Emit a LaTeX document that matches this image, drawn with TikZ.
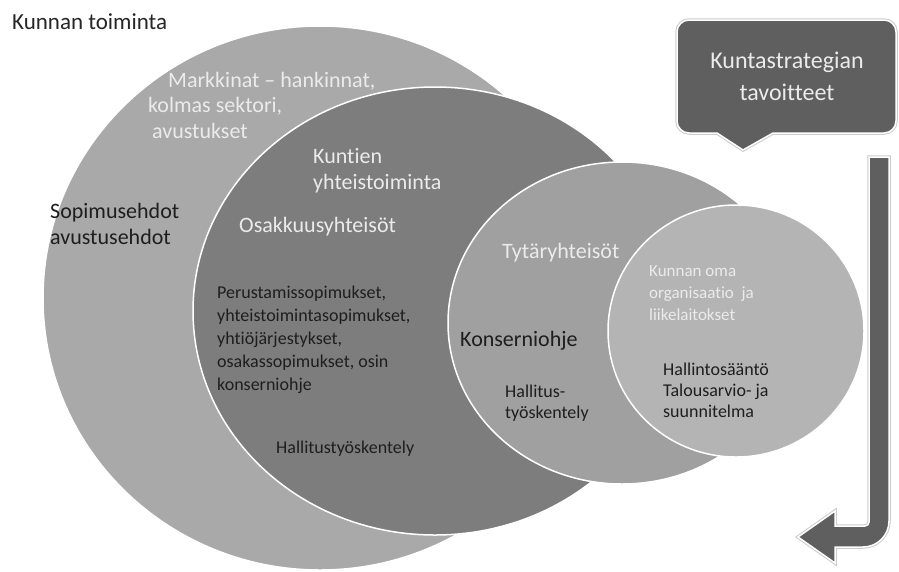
\documentclass[tikz,border=0pt]{standalone}
\usepackage{fontspec}
\setmainfont{Carlito}[Ligatures={NoCommon}]
\usetikzlibrary{calc}

\definecolor{ringA}{HTML}{A9A9A9}
\definecolor{ringB}{HTML}{7D7D7D}
\definecolor{ringC}{HTML}{A0A0A0}
\definecolor{ringD}{HTML}{B4B4B4}
\definecolor{boxgray}{HTML}{5F5F5F}
\definecolor{inkdark}{HTML}{1E1E1E}

\begin{document}
\begin{tikzpicture}[x=1pt,y=-1pt,
	ring/.style={draw=white,line width=1.5pt},
	callbox/.style={fill=boxgray,draw=white,line width=1.5pt,preaction={draw=black!20,line width=3.5pt}},
	wlabel/.style={text=white!92!black,anchor=base west,inner sep=0pt,align=left,font=\fontsize{22}{26}\selectfont},
	dlabel/.style={text=inkdark,anchor=base west,inner sep=0pt,align=left,font=\fontsize{22}{26}\selectfont},
	blabel/.style={text=inkdark,anchor=base west,inner sep=0pt,align=left,font=\fontsize{18}{23}\selectfont}]

	\useasboundingbox[fill=white] (0,0) rectangle (899,571);

	\fill[ringA] (320,298) ellipse[x radius=277,y radius=272]; %kunnan toiminta
	\draw[ring] (320,298) ellipse[x radius=277,y radius=272];
	\draw[ring,fill=ringB] (435,311) ellipse[x radius=242,y radius=224]; %yhteistoiminta
	\draw[ring,fill=ringC] (622,323) ellipse[x radius=174,y radius=161]; %tytaryhteisot
	\draw[ring,fill=ringD] (736,331) ellipse[x radius=128,y radius=126]; %oma organisaatio

	\draw[callbox] (743,150) -- (717,133) [rounded corners=12pt] -- (677,133) -- (677,20) -- (896,20) -- (896,133) [sharp corners] -- (773,133) -- cycle;
	\draw[callbox] (869,157) -- (889,157) [rounded corners=26pt] -- (889,547) [sharp corners] -- (835,547) -- (835,563) -- (798,537) -- (835,511) -- (835,526) [rounded corners=4pt] -- (869,526) [sharp corners] -- cycle;

	% multi-line labels sit on the baseline of their last line
	\node[dlabel,text=black!85,font=\fontsize{23}{26}\selectfont] (title) at (12,29) {Kunnan toiminta};
	\node[wlabel,font=\fontsize{22}{25.5}\selectfont] (markkinat) at (148,138) {\hspace*{20pt}Markkinat – hankinnat,\\kolmas sektori,\\\hspace*{4pt}avustukset};
	\node[dlabel] (sopimus) at (50,244) {Sopimusehdot\\avustusehdot};
	\node[wlabel] (kuntien) at (313,189) {Kuntien\\yhteistoiminta};
	\node[wlabel] (osakkuus) at (239,232) {Osakkuusyhteisöt};
	\node[blabel] (perustamis) at (217,390) {Perustamissopimukset,\\yhteistoimintasopimukset,\\yhtiöjärjestykset,\\osakassopimukset, osin\\konserniohje};
	\node[blabel] (hallitus) at (276,453) {Hallitustyöskentely};
	\node[wlabel] (tytar) at (502,258) {Tytäryhteisöt};
	\node[dlabel] (konserni) at (460,346) {Konserniohje};
	\node[blabel,font=\fontsize{18}{21}\selectfont] (hallitus2) at (505,418) {Hallitus-\\työskentely};
	\node[wlabel,font=\fontsize{17}{22}\selectfont] (oma) at (649,320) {Kunnan oma\\organisaatio\ \ ja\\liikelaitokset};
	\node[blabel,font=\fontsize{18}{21}\selectfont] (saanto) at (663,417) {Hallintosääntö\\Talousarvio- ja\\suunnitelma};
	\node[wlabel,anchor=base,align=center,font=\fontsize{24}{32}\selectfont] (strategia) at (787,100) {Kuntastrategian\\tavoitteet};

\end{tikzpicture}
\end{document}
